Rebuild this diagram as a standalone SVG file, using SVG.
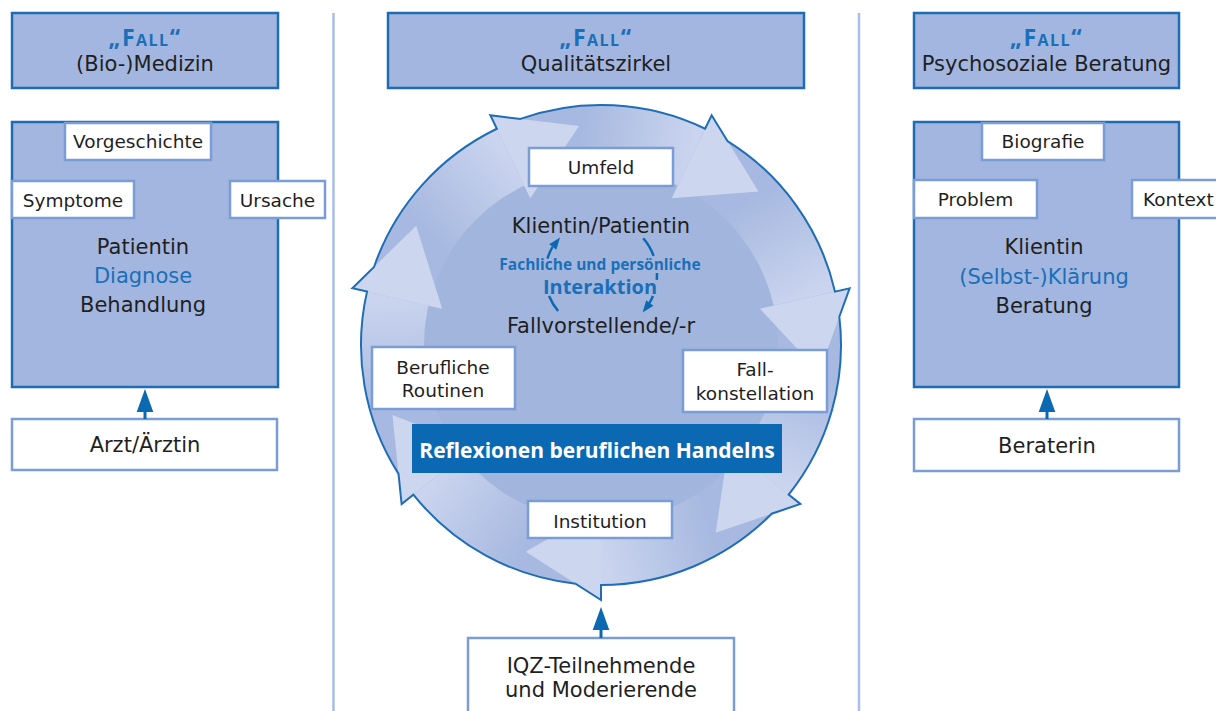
<svg xmlns="http://www.w3.org/2000/svg" width="1216" height="711" viewBox="0 0 1216 711">
<defs>
<style>
.box{fill:#a3b6df;stroke:#1d6cb4;stroke-width:2.5}
.wb{fill:#fff;stroke:#7a9dd6;stroke-width:2.5}
.sep{stroke:#a9bde6;stroke-width:2.5}
.t{font-family:"DejaVu Sans",sans-serif;fill:#1f1f1f;text-anchor:middle}
.s{font-size:18.5px}
.l{font-size:21px}
.blue{fill:#1a6fb8}
.fall{font-family:"Open Sans","DejaVu Sans",sans-serif;font-weight:700;font-variant:small-caps;font-size:23px;fill:#1a6fb8;text-anchor:middle;letter-spacing:1.5px}
.b{font-family:"Open Sans","DejaVu Sans",sans-serif;font-weight:700;text-anchor:middle}
.conn{stroke:#0b69b2;stroke-width:3;fill:none}
.arc{stroke:#0b69b2;stroke-width:2.5;fill:none}
.head{fill:#0b69b2}
</style>
<linearGradient id="shaft" gradientUnits="userSpaceOnUse" x1="709.5" y1="522.5" x2="601" y2="553">
<stop offset="0" stop-color="#a7b9e0"/>
<stop offset="1" stop-color="#cad4ee"/>
</linearGradient>
<path id="shaftP" d="M788.64,494.64 A240,240 0 0 1 601,585 L601,521 A176,176 0 0 0 738.60,454.73 Z" fill="url(#shaft)"/>
<polygon id="headP" points="601,508 601,600 525.76,551.73" fill="#cdd6ef"/>
</defs>

<g id="separators">
<line class="sep" x1="333.5" y1="13" x2="333.5" y2="711"/>
<line class="sep" x1="859" y1="13" x2="859" y2="711"/>
</g>

<!-- Left column -->
<g id="header-medizin">
<rect class="box" x="12" y="13" width="266" height="75"/>
<text class="fall" x="145" y="46">„Fall“</text>
<text class="t l" x="145" y="71">(Bio-)Medizin</text>
</g>
<g id="fall-medizin">
<rect class="box" x="12" y="122" width="266" height="265"/>
<text class="t l" x="143" y="254">Patientin</text>
<text class="t l blue" x="143" y="283">Diagnose</text>
<text class="t l" x="143" y="312">Behandlung</text>
</g>
<g id="vorgeschichte">
<rect class="wb" x="65" y="123" width="146" height="37"/>
<text class="t s" x="138" y="148">Vorgeschichte</text>
</g>
<g id="symptome">
<rect class="wb" x="12" y="181" width="122" height="37"/>
<text class="t s" x="73" y="207">Symptome</text>
</g>
<g id="ursache">
<rect class="wb" x="230" y="181" width="95" height="37"/>
<text class="t s" x="277.5" y="207">Ursache</text>
</g>
<g id="arzt">
<rect class="wb" x="12" y="419" width="265" height="51"/>
<text class="t l" x="145" y="452">Arzt/Ärztin</text>
</g>

<!-- Middle column -->
<g id="header-qz">
<rect class="box" x="388" y="13" width="416" height="75"/>
<text class="fall" x="596" y="46">„Fall“</text>
<text class="t l" x="596" y="71">Qualitätszirkel</text>
</g>

<g id="zyklus">
<circle cx="601" cy="345" r="240" fill="#b3c2e5"/>
<use href="#shaftP"/>
<use href="#shaftP" transform="rotate(51.4286 601 345)"/>
<use href="#shaftP" transform="rotate(102.8571 601 345)"/>
<use href="#shaftP" transform="rotate(154.2857 601 345)"/>
<use href="#shaftP" transform="rotate(205.7143 601 345)"/>
<use href="#shaftP" transform="rotate(257.1429 601 345)"/>
<use href="#shaftP" transform="rotate(308.5714 601 345)"/>
<circle cx="601" cy="345" r="177" fill="#a2b5dd"/>
<use href="#headP"/>
<use href="#headP" transform="rotate(51.4286 601 345)"/>
<use href="#headP" transform="rotate(102.8571 601 345)"/>
<use href="#headP" transform="rotate(154.2857 601 345)"/>
<use href="#headP" transform="rotate(205.7143 601 345)"/>
<use href="#headP" transform="rotate(257.1429 601 345)"/>
<use href="#headP" transform="rotate(308.5714 601 345)"/>
<path d="M601,585 L601,600 L575.50,583.64 A240,240 0 0 1 413.36,494.64 L401.63,503.99 L398.52,473.84 A240,240 0 0 1 367.02,291.60 L352.39,288.26 L374.02,267.02 A240,240 0 0 1 496.87,128.77 L490.36,115.25 L520.46,118.92 A240,240 0 0 1 705.13,128.77 L711.64,115.25 L727.49,141.04 A240,240 0 0 1 834.98,291.60 L849.61,288.26 L839.33,316.75 A240,240 0 0 1 788.64,494.64 L800.37,503.99 L771.69,513.72 A240,240 0 0 1 601,585 Z" fill="none" stroke="#1f6db5" stroke-width="2"/>
</g>

<g id="klientin-patientin">
<text class="t l" x="601" y="233">Klientin/Patientin</text>
</g>
<g id="interaktion">
<text class="b blue" x="600" y="270" font-size="15.5">Fachliche und persönliche</text>
<text class="b blue" x="600" y="294" font-size="20">Interaktion</text>
</g>
<g id="fallvorstellende">
<text class="t l" x="601" y="333">Fallvorstellende/-r</text>
</g>
<g id="umfeld">
<rect class="wb" x="529" y="148" width="144" height="38"/>
<text class="t s" x="601" y="174">Umfeld</text>
</g>
<g id="routinen">
<rect class="wb" x="372" y="347" width="143" height="62"/>
<text class="t s" x="443" y="374">Berufliche</text>
<text class="t s" x="443" y="397">Routinen</text>
</g>
<g id="fallkonstellation">
<rect class="wb" x="683" y="350" width="144" height="62"/>
<text class="t s" x="755" y="376">Fall-</text>
<text class="t s" x="755" y="400">konstellation</text>
</g>
<g id="reflexionen">
<rect x="412" y="424" width="370" height="49" fill="#0a69b2"/>
<text class="b" x="597" y="458" font-size="21" fill="#ffffff">Reflexionen beruflichen Handelns</text>
</g>
<g id="institution">
<rect class="wb" x="528" y="501" width="144" height="37"/>
<text class="t s" x="600" y="528">Institution</text>
</g>
<g id="iqz">
<rect class="wb" x="468" y="638" width="266" height="90"/>
<text class="t l" x="601" y="673">IQZ-Teilnehmende</text>
<text class="t l" x="601" y="697">und Moderierende</text>
</g>

<!-- Right column -->
<g id="header-beratung">
<rect class="box" x="914" y="13" width="265" height="75"/>
<text class="fall" x="1046.5" y="46">„Fall“</text>
<text class="t l" x="1046.5" y="71">Psychosoziale Beratung</text>
</g>
<g id="fall-beratung">
<rect class="box" x="914" y="122" width="265" height="265"/>
<text class="t l" x="1044" y="254">Klientin</text>
<text class="t l blue" x="1044" y="284">(Selbst-)Klärung</text>
<text class="t l" x="1044" y="313">Beratung</text>
</g>
<g id="biografie">
<rect class="wb" x="982" y="123" width="122" height="37"/>
<text class="t s" x="1043" y="148">Biografie</text>
</g>
<g id="problem">
<rect class="wb" x="914" y="180" width="123" height="38"/>
<text class="t s" x="975.5" y="206">Problem</text>
</g>
<g id="kontext">
<rect class="wb" x="1132" y="180" width="100" height="38"/>
<text class="t s" x="1143" y="206" style="text-anchor:start">Kontext</text>
</g>
<g id="beraterin">
<rect class="wb" x="914" y="419" width="265" height="52"/>
<text class="t l" x="1047" y="453">Beraterin</text>
</g>

<g id="connectors">
<line class="conn" x1="145" y1="419" x2="145" y2="410"/>
<polygon class="head" points="145,389 136.7,412 153.3,412"/>
<line class="conn" x1="1047" y1="419" x2="1047" y2="410"/>
<polygon class="head" points="1047,389 1038.7,412 1055.3,412"/>
<line class="conn" x1="601" y1="638" x2="601" y2="628"/>
<polygon class="head" points="601,607 592.7,630 609.3,630"/>
<path class="arc" d="M558.10,311.00 A56,56 0 0 1 549.08,295.98"/>
<path class="arc" d="M547.45,258.63 A56,56 0 0 1 552.50,247.00"/>
<polygon class="head" points="560,237.5 556.37,249.79 549.19,244.37"/>
<path class="arc" d="M643.26,238.26 A56,56 0 0 1 653.62,255.85"/>
<path class="arc" d="M656.97,273.05 A56,56 0 0 1 656.79,279.88"/>
<path class="arc" d="M652.92,295.98 A56,56 0 0 1 649.50,303.00"/>
<polygon class="head" points="642.6,312.5 653.41,305.63 646.23,300.21"/>
</g>
</svg>
